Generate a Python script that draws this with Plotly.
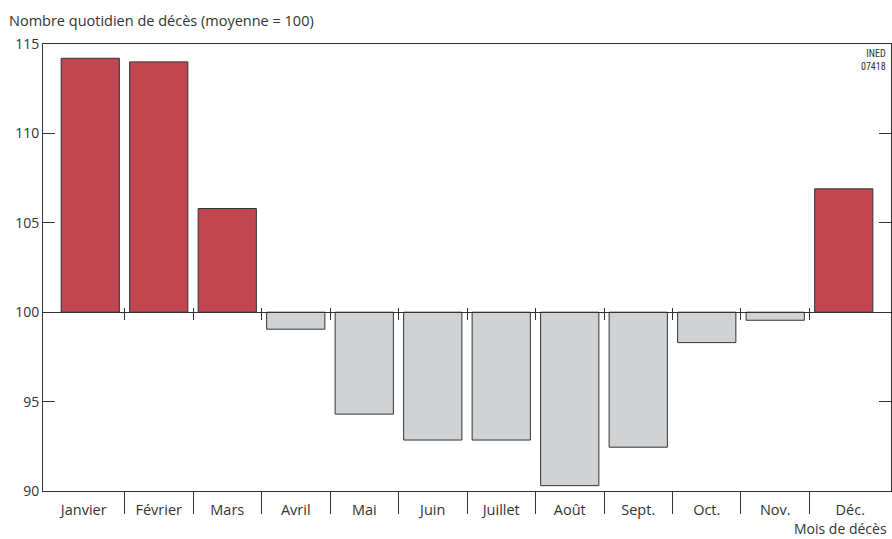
import plotly.graph_objects as go

months = ["Janvier", "Février", "Mars", "Avril", "Mai", "Juin", "Juillet",
          "Août", "Sept.", "Oct.", "Nov.", "Déc."]
deaths_index = [114.2, 114.0, 105.8, 99.05, 94.3, 92.85, 92.85, 90.3, 92.45, 98.3, 99.55, 106.9]
baseline = 100
y_ticks = [90, 95, 100, 105, 110, 115]

RED = "#C1464F"
GREY = "#D1D2D4"
DARK = "#333333"
colors = [RED if v >= baseline else GREY for v in deaths_index]

n = len(months)
xs = list(range(n))
pad = 0.19  # extra space at both ends of the category axis
x_range = [-0.5 - pad, n - 0.5 + pad]
inner_bounds = [i + 0.5 for i in range(n - 1)]
# label positions: centre of each cell (outer cells stretch to the frame)
label_pos = [(x_range[0] + 0.5) / 2] + xs[1:-1] + [(n - 1.5 + x_range[1]) / 2]
pos100 = (baseline - y_ticks[0]) / (y_ticks[-1] - y_ticks[0])

fig = go.Figure()
fig.add_trace(go.Bar(
    x=xs,
    y=[v - baseline for v in deaths_index],
    base=baseline,
    marker=dict(color=colors, line=dict(color=DARK, width=1)),
    width=0.85,
    hovertext=[f"{m}: {v}" for m, v in zip(months, deaths_index)],
    hoverinfo="text",
))

# invisible helper traces so the baseline axes get drawn
for ax in ["x2", "x3"]:
    fig.add_trace(go.Scatter(x=inner_bounds, y=[baseline] * len(inner_bounds), xaxis=ax, yaxis="y",
                             mode="markers", marker=dict(opacity=0), hoverinfo="skip"))

fig.update_layout(
    width=892, height=539,
    margin=dict(l=43, r=1, t=44, b=48),
    paper_bgcolor="white", plot_bgcolor="white",
    font=dict(family="Open Sans", size=14, color=DARK),
    showlegend=False,
    xaxis=dict(
        range=x_range,
        tickvals=label_pos, ticktext=months, ticks="",
        ticklabelstandoff=6,
        minor=dict(tickvals=inner_bounds, ticks="outside", ticklen=22,
                   tickcolor=DARK, tickwidth=1, showgrid=False),
        showline=True, linecolor=DARK, linewidth=1, mirror=True,
        tickfont=dict(size=14.5, color=DARK),
        showgrid=False, zeroline=False,
    ),
    xaxis2=dict(
        overlaying="x", anchor="free", position=pos100, side="bottom",
        range=x_range, tickvals=inner_bounds, showticklabels=False,
        showline=True, linecolor=DARK, linewidth=1,
        ticks="outside", ticklen=7, tickcolor=DARK, tickwidth=1,
        showgrid=False, zeroline=False,
    ),
    xaxis3=dict(
        overlaying="x", anchor="free", position=pos100, side="bottom",
        range=x_range, tickvals=inner_bounds, showticklabels=False,
        showline=False,
        ticks="inside", ticklen=4, tickcolor=DARK, tickwidth=1,
        showgrid=False, zeroline=False,
    ),
    yaxis=dict(
        range=[y_ticks[0], y_ticks[-1]], tickvals=y_ticks,
        showline=True, linecolor=DARK, linewidth=1, mirror="ticks",
        ticks="inside", ticklen=12, tickcolor=DARK, tickwidth=1,
        tickfont=dict(size=14, color=DARK),
        showgrid=False, zeroline=False,
    ),
    annotations=[
        dict(text="Nombre quotidien de décès (moyenne = 100)", xref="paper", yref="paper",
             x=-36/848, y=1 + 24/447, xanchor="left", yanchor="middle", showarrow=False,
             font=dict(size=14.5, color=DARK)),
        dict(text="Mois de décès", xref="paper", yref="paper",
             x=1 - 3/848, y=-37/447, xanchor="right", yanchor="middle", showarrow=False,
             borderpad=0, font=dict(size=14, color=DARK)),
        dict(text="INED<br>07418", xref="paper", yref="paper",
             x=1 - 3/848, y=1 - 2/447, xanchor="right", yanchor="top", showarrow=False,
             align="right", font=dict(family="Liberation Sans Narrow, Roboto Condensed, Roboto", size=10, color=DARK)),
    ],
)

fig.write_html("out.html", config={"displayModeBar": False},
               post_script="document.body.style.margin='0';document.body.style.overflow='hidden';")
